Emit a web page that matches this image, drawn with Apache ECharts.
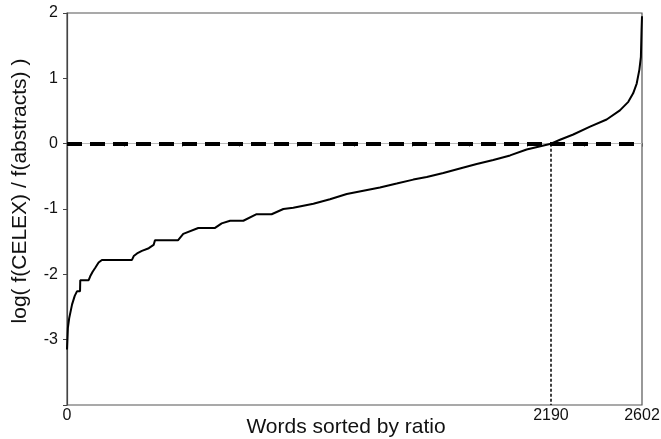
<!DOCTYPE html>
<html>
<head>
<meta charset="utf-8">
<script src="https://cdn.jsdelivr.net/npm/echarts@6/dist/echarts.min.js"></script>
<style>
html,body{margin:0;padding:0;background:#fff;}
#c{width:661px;height:439px;}
</style>
</head>
<body>
<div id="c"></div>
<script>
// Word index (sorted by ratio) and log ratio
const wordRank = [0, 4, 10, 23, 35, 45, 59, 60, 98, 105, 116, 128, 143, 158, 294, 302, 317, 339, 370, 392, 398, 502, 526, 594, 670, 700, 738, 798, 858, 926, 979, 1024, 1115, 1190, 1266, 1341, 1416, 1492, 1567, 1628, 1703, 1778, 1854, 1929, 2005, 2080, 2190, 2231, 2291, 2367, 2442, 2502, 2540, 2562, 2578, 2590, 2597, 2600, 2602];
const logRatio = [-3.15, -2.82, -2.67, -2.46, -2.33, -2.26, -2.26, -2.09, -2.09, -2.03, -1.96, -1.90, -1.82, -1.78, -1.78, -1.72, -1.68, -1.64, -1.60, -1.55, -1.48, -1.48, -1.38, -1.29, -1.29, -1.22, -1.18, -1.18, -1.08, -1.08, -1.00, -0.98, -0.92, -0.85, -0.77, -0.72, -0.67, -0.61, -0.55, -0.51, -0.45, -0.38, -0.31, -0.25, -0.18, -0.09, 0.00, 0.06, 0.14, 0.26, 0.37, 0.51, 0.64, 0.77, 0.92, 1.13, 1.33, 1.74, 1.95];

const xTickLabels = [0, 2190, 2602];
const xMax = 2602;
const xTickCount = 10;
const yTickLabels = [-3, -2, -1, 0, 1, 2];
const yMin = -4, yMax = 2;
const crossX = 2190;   // where the curve crosses zero
const zeroLevel = 0;

const xTickValues = [];
for (let i = 0; i <= xTickCount; i++) xTickValues.push(xMax * i / xTickCount);

const font = '"Liberation Sans", Arial, Helvetica, sans-serif';
const chart = echarts.init(document.getElementById('c'), null, {renderer: 'canvas'});
chart.setOption({
  animation: false,
  backgroundColor: '#fff',
  grid: {left: 67, right: 19, top: 13, bottom: 34, containLabel: false, outerBoundsMode: 'none',
         show: true, borderColor: '#555', borderWidth: 1.2, backgroundColor: 'transparent'},
  xAxis: {
    type: 'value', min: 0, max: xMax,
    name: 'Words sorted by ratio', nameLocation: 'middle', nameGap: 12, nameMoveOverlap: false,
    nameTextStyle: {fontFamily: font, fontSize: 21, color: '#111', padding: [0, 17, 0, 0]},
    axisLine: {show: true, lineStyle: {color: '#444', width: 1.2}},
    axisTick: {show: true, inside: false, length: 3, lineStyle: {color: '#666'}, customValues: xTickValues},
    axisLabel: {customValues: xTickLabels, formatter: v => String(v), fontFamily: font, fontSize: 16, color: '#111', margin: 3, showMinLabel: true, showMaxLabel: true},
    splitLine: {show: false}
  },
  yAxis: {
    type: 'value', min: yMin, max: yMax, interval: 1,
    name: 'log( f(CELEX) / f(abstracts) )', nameLocation: 'middle', nameGap: 36, nameMoveOverlap: false,
    nameTextStyle: {fontFamily: font, fontSize: 21, color: '#111', padding: [0, 0, 0, 36]},
    axisLine: {show: true, lineStyle: {color: '#444', width: 1.2}},
    axisTick: {show: true, inside: false, length: 4, lineStyle: {color: '#444'}},
    axisLabel: {customValues: yTickLabels, formatter: v => String(v), fontFamily: font, fontSize: 16, color: '#111', margin: 9},
    splitLine: {show: false}
  },
  series: [{
    type: 'line',
    data: wordRank.map((x, i) => [x, logRatio[i]]),
    showSymbol: false, symbol: 'none', smooth: false,
    lineStyle: {color: '#000', width: 2},
    z: 5,
    markLine: {
      silent: true, symbol: ['none', 'none'], label: {show: false},
      data: [
        {yAxis: zeroLevel, lineStyle: {color: '#bbb', width: 1, type: 'solid'}},
        {yAxis: zeroLevel, lineStyle: {color: '#000', width: 4, type: [15, 8]}},
        [{coord: [crossX, zeroLevel]}, {coord: [crossX, yMin]}]
      ],
      lineStyle: {color: '#000', width: 1.5, type: [3, 2]}
    }
  }]
});
</script>
</body>
</html>
